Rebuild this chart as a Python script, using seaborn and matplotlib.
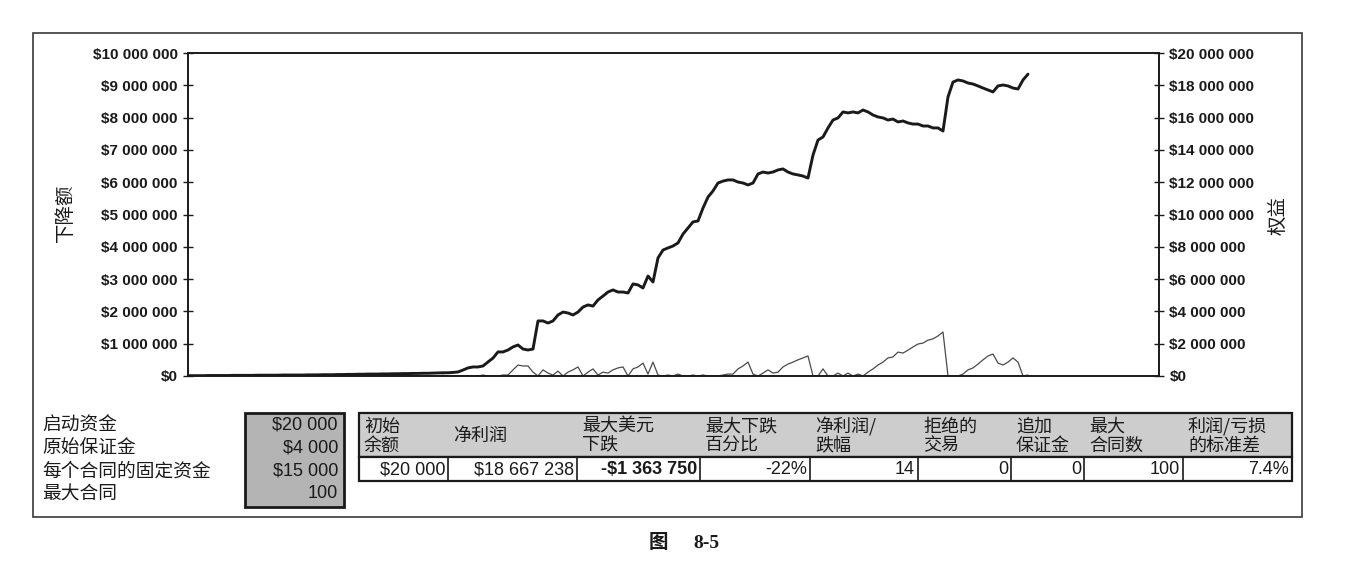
import numpy as np
import pandas as pd
import matplotlib
matplotlib.use("Agg")
import matplotlib.pyplot as plt
import seaborn as sns
from matplotlib.patches import Rectangle
from matplotlib.lines import Line2D
from matplotlib.ticker import FuncFormatter, MultipleLocator

# ---------------- data (millions of USD) ----------------
equity_musd = [
    0.02, 0.02, 0.02, 0.02, 0.03, 0.03, 0.03, 0.03, 0.03, 0.04,
    0.04, 0.04, 0.04, 0.04, 0.05, 0.05, 0.05, 0.05, 0.05, 0.06,
    0.06, 0.06, 0.06, 0.06, 0.07, 0.07, 0.07, 0.08, 0.08, 0.08,
    0.09, 0.09, 0.10, 0.10, 0.11, 0.11, 0.12, 0.12, 0.12, 0.13,
    0.13, 0.14, 0.14, 0.15, 0.15, 0.16, 0.16, 0.17, 0.17, 0.18,
    0.19, 0.20, 0.20, 0.22, 0.25, 0.37, 0.50, 0.56, 0.56, 0.62,
    0.87, 1.11, 1.49, 1.49, 1.61, 1.80, 1.92, 1.67, 1.61, 1.67,
    3.41, 3.41, 3.28, 3.41, 3.78, 3.96, 3.90, 3.78, 3.96, 4.27,
    4.40, 4.33, 4.71, 4.95, 5.20, 5.33, 5.20, 5.20, 5.14, 5.70,
    5.64, 5.45, 6.19, 5.82, 7.31, 7.80, 7.93, 8.05, 8.24, 8.79,
    9.16, 9.54, 9.60, 10.40, 11.08, 11.46, 11.95, 12.07, 12.14, 12.14,
    12.01, 11.95, 11.83, 11.95, 12.51, 12.63, 12.57, 12.63, 12.76, 12.82,
    12.63, 12.51, 12.45, 12.38, 12.26, 13.68, 14.61, 14.80, 15.36, 15.85,
    15.98, 16.35, 16.29, 16.35, 16.29, 16.47, 16.35, 16.16, 16.04, 15.98,
    15.85, 15.91, 15.73, 15.79, 15.67, 15.60, 15.60, 15.48, 15.48, 15.36,
    15.36, 15.17, 17.28, 18.20, 18.33, 18.27, 18.14, 18.08, 17.96, 17.83,
    17.71, 17.59, 17.96, 18.02, 17.96, 17.83, 17.77, 18.33, 18.69,
]
drawdown_musd = [
    0, 0, 0, 0.01, 0, 0, 0, 0, 0.01, 0,
    0, 0, 0.01, 0, 0, 0, 0, 0.01, 0, 0,
    0, 0, 0, 0.01, 0, 0, 0, 0, 0.01, 0,
    0, 0.01, 0, 0, 0, 0.01, 0, 0, 0, 0.01,
    0, 0, 0.01, 0, 0, 0.02, 0, 0, 0.01, 0,
    0, 0.02, 0, 0, 0.01, 0,
    0, 0, 0, 0.03,
    0, 0, 0, 0.03, 0.03, 0.19, 0.34, 0.31, 0.31, 0.12,
    0, 0.19, 0.09, 0.03, 0.15, 0, 0.12, 0.19, 0.28, 0,
    0.12, 0.22, 0.03, 0.12, 0.09, 0.19, 0.25, 0.28, 0, 0.22,
    0.28, 0.40, 0.06, 0.43, 0.03, 0, 0.03, 0, 0.06, 0,
    0, 0.03, 0, 0.03, 0, 0, 0, 0.03, 0.06, 0.06,
    0.22, 0.31, 0.43, 0.06, 0, 0.09, 0.19, 0.09, 0.12, 0.28,
    0.37, 0.43, 0.50, 0.56, 0.62, 0, 0, 0.22, 0, 0,
    0.09, 0, 0.09, 0, 0.06, 0, 0.12, 0.22, 0.34, 0.43,
    0.56, 0.59, 0.74, 0.71, 0.80, 0.90, 0.99, 1.02, 1.11, 1.15,
    1.24, 1.36, 0, 0, 0, 0.06, 0.19, 0.25, 0.37, 0.50,
    0.62, 0.68, 0.40, 0.34, 0.43, 0.56, 0.43, 0, 0.03,
]

left_axis_label = "下降额"
right_axis_label = "权益"
param_labels = ["启动资金", "原始保证金", "每个合同的固定资金", "最大合同"]
param_values = ["$20 000", "$4 000", "$15 000", "100"]
result_headers = ["初始\n余额", "净利润", "最大美元\n下跌", "最大下跌\n百分比", "净利润/\n跌幅",
                  "拒绝的\n交易", "追加\n保证金", "最大\n合同数", "利润/亏损\n的标准差"]
result_values = ["$20 000", "$18 667 238", "-$1 363 750", "-22%", "14", "0", "0", "100", "7.4%"]
caption_left = "图"
caption_right = "8-5"

# ---------------- style ----------------
sns.set_theme(style="white")
plt.rcParams["font.family"] = ["Liberation Sans", "Noto Sans CJK SC", "DejaVu Sans"]
CJK = ["Noto Sans CJK SC", "Liberation Sans", "DejaVu Sans"]
INK = "#1a1a1a"

W, H = 1353, 586
fig = plt.figure(figsize=(W / 100, H / 100), dpi=100)
fig.patch.set_facecolor("white")


def fx(x):
    return x / W


def fy(y):
    return 1 - y / H


# ---------------- chart ----------------
ax = fig.add_axes([fx(188), fy(376), fx(1159) - fx(188), fy(53) - fy(376)])
ax2 = ax.twinx()

df = pd.DataFrame({
    "period": np.arange(len(equity_musd)),
    "equity": np.array(equity_musd) * 1e6,
    "drawdown": np.array(drawdown_musd) * 1e6,
})

sns.lineplot(data=df, x="period", y="drawdown", ax=ax, color="#4a4a4a", linewidth=0.9)
sns.lineplot(data=df, x="period", y="equity", ax=ax2, color=INK, linewidth=2.1)

ax.set_xlim(0, 194.2)
ax.set_ylim(0, 10e6)
ax2.set_ylim(0, 20e6)
ax.yaxis.set_major_locator(MultipleLocator(1e6))
ax2.yaxis.set_major_locator(MultipleLocator(2e6))
money = FuncFormatter(lambda v, p: "$" + f"{int(round(v)):,}".replace(",", " "))
ax.yaxis.set_major_formatter(money)
ax2.yaxis.set_major_formatter(money)
ax.set_xticks([])
for a in (ax, ax2):
    a.set_xlabel("")
    a.set_ylabel("")
    a.tick_params(axis="y", direction="inout", length=7, width=1.0, color=INK,
                  labelsize=11, labelcolor=INK, pad=4)
    for lab in a.get_yticklabels():
        lab.set_fontweight("bold")
    for s in a.spines.values():
        s.set_visible(True)
        s.set_color(INK)
        s.set_linewidth(1.2)
ax.set_facecolor("none")

fig.text(fx(65), fy(213), left_axis_label, rotation=90, ha="center", va="center",
         fontsize=14, family=CJK, color=INK)
fig.text(fx(1279), fy(216), right_axis_label, rotation=90, ha="center", va="center",
         fontsize=14, family=CJK, color=INK)

# ---------------- outer frame ----------------
fig.add_artist(Rectangle((fx(33), fy(517)), fx(1302) - fx(33), fy(33) - fy(517),
                         transform=fig.transFigure, fill=False, ec="#3a3a3a", lw=1.2))

# ---------------- parameter box ----------------
fig.add_artist(Rectangle((fx(245), fy(507)), fx(344) - fx(245), fy(413) - fy(507),
                         transform=fig.transFigure, fc="#b4b4b4", ec=INK, lw=2.0))
param_rows_y = [425, 448, 471, 494]
for lab, val, yy in zip(param_labels, param_values, param_rows_y):
    fig.text(fx(42), fy(yy), lab, ha="left", va="center", fontsize=13.5, family=CJK, color=INK)
    fig.text(fx(338), fy(yy), val, ha="right", va="center", fontsize=13, color=INK)

# ---------------- results table ----------------
col_edges = [359, 448, 577, 700, 810, 918, 1011, 1084, 1183, 1292]
head_top, head_bot, row_bot = 413, 457, 481
fig.add_artist(Rectangle((fx(col_edges[0]), fy(head_bot)), fx(col_edges[-1]) - fx(col_edges[0]),
                         fy(head_top) - fy(head_bot), transform=fig.transFigure,
                         fc="#cdcdcd", ec=INK, lw=1.6))
fig.add_artist(Rectangle((fx(col_edges[0]), fy(row_bot)), fx(col_edges[-1]) - fx(col_edges[0]),
                         fy(head_bot) - fy(row_bot), transform=fig.transFigure,
                         fc="white", ec=INK, lw=1.6))
for xe in col_edges[1:-1]:
    fig.add_artist(Line2D([fx(xe), fx(xe)], [fy(head_bot), fy(row_bot)],
                          transform=fig.transFigure, color=INK, lw=1.2))
for i, (hd, val) in enumerate(zip(result_headers, result_values)):
    left, right = col_edges[i], col_edges[i + 1]
    fig.text(fx(left + 5), fy(436), hd, ha="left", va="center", fontsize=13,
             family=CJK, color=INK, linespacing=1.05)
    fig.text(fx(right - 3), fy(469.5), val, ha="right", va="center", fontsize=13,
             color=INK, fontweight="bold" if val.startswith("-$") else "normal")

# ---------------- caption ----------------
fig.text(fx(658), fy(543), caption_left, ha="center", va="center", fontsize=14,
         family=CJK, fontweight="bold", color=INK)
fig.text(fx(693), fy(543), caption_right, ha="left", va="center", fontsize=14,
         family=["Liberation Serif", "DejaVu Serif"], fontweight="bold", color=INK)

fig.savefig("out.png", dpi=100, facecolor="white")
